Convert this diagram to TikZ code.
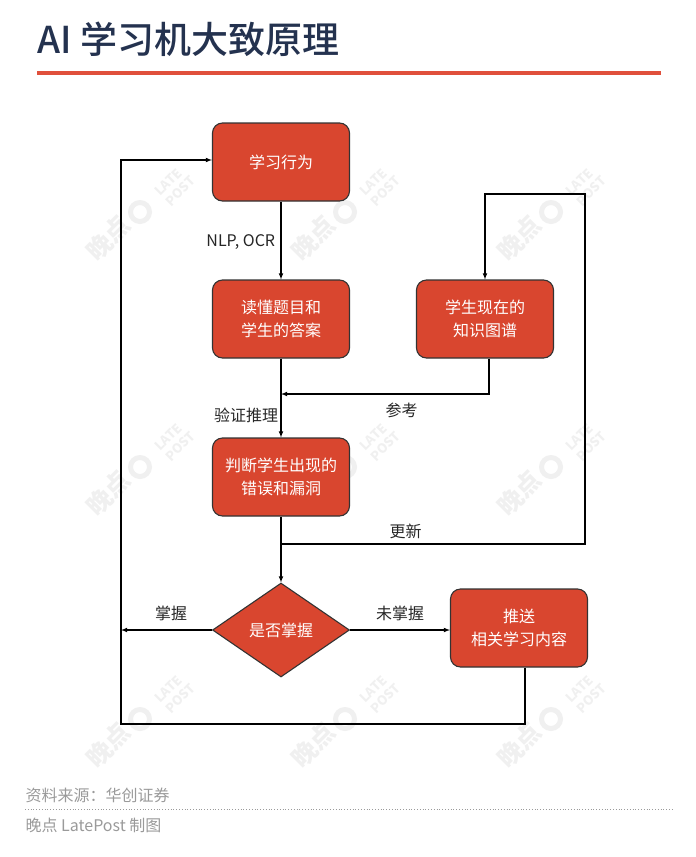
\documentclass[tikz,border=0pt]{standalone}
\usepackage{fontspec}
\setmainfont{Noto Sans CJK SC}
\newfontfamily\titlefont{Noto Sans CJK SC Medium}
\usetikzlibrary{arrows,positioning,shapes.geometric}
\definecolor{boxred}{HTML}{D9462F}
\definecolor{titleblue}{HTML}{24324F}
\definecolor{rulered}{HTML}{E0503C}
\definecolor{footgray}{HTML}{9A9A9A}
\definecolor{markgray}{HTML}{F0F0F0}
\tikzset{
  block/.style={draw=black!80,fill=boxred,rounded corners=10pt,text=white,align=center,
    minimum width=137pt,minimum height=78pt,inner sep=0pt,font=\fontsize{16}{23}\selectfont},
  decision/.style={diamond,draw=black!80,fill=boxred,text=white,align=center,
    minimum width=137pt,minimum height=94pt,inner sep=0pt,font=\fontsize{16}{23}\selectfont},
  tag/.style={text=black!85,font=\fontsize{16}{20}\selectfont},
  foot/.style={text=footgray,anchor=west,inner sep=0pt,font=\fontsize{16}{20}\selectfont},
  wmark/.style={rotate=45,text=markgray,inner sep=0pt}
}
\begin{document}
\begin{tikzpicture}[x=1pt,y=-1pt,>=latex,line width=1.1pt]
\useasboundingbox (0,0) rectangle (696,857);

% watermark
\foreach \wx in {140,345,551} {
  \foreach \wy in {215,470,722} {
    \node[wmark,font=\bfseries\fontsize{25}{26}\selectfont] (wm_a_\wx_\wy) at (\wx-32,\wy+23) {晚点};
    \node[draw=markgray,circle,line width=5pt,minimum size=19pt,inner sep=0pt] (wm_c_\wx_\wy) at (\wx,\wy-3) {};
    \node[wmark,align=left,font=\bfseries\fontsize{13}{15}\selectfont] (wm_l_\wx_\wy) at (\wx+35,\wy-29) {LATE\\POST};
  }
}

% title
\node[anchor=west,inner sep=0pt,text=titleblue,font=\titlefont\fontsize{37}{40}\selectfont] (title) at (37,39) {AI 学习机大致原理};
\coordinate (rule_l) at (37,73);
\coordinate (rule_r) at (661,73);
\draw[rulered,line width=3.5pt] (rule_l) -- (rule_r);

% flow
\node[block] (act) at (281,162) {学习行为};
\node[block] (read) [below of = act,node distance = 157pt] {读懂题目和\\学生的答案};
\node[block] (graph) [right of = read,node distance = 204pt] {学生现在的\\知识图谱};
\node[block] (err) [below of = read,node distance = 158pt] {判断学生出现的\\错误和漏洞};
\node[decision] (dec) [below of = err,node distance = 153pt] {是否掌握};
\node[block] (push) at (519,628) {推送\\相关学习内容};

\coordinate (up_r) at (585,544);
\coordinate (up_l) at (281,544);
\coordinate (top_r) at (585,194);
\coordinate (top_l) at (485,194);
\coordinate (ref_r) at (489,394);
\coordinate (ref_l) at (281,394);
\coordinate (back_r) at (525,724);
\coordinate (back_l) at (121,724);
\coordinate (back_t) at (121,160);
\coordinate (know) at (121,630);

\path[->] (act) edge node [left,tag,xshift=-2pt,yshift=-2pt] {NLP, OCR} (read)
          (read) edge node [left,tag,pos=0.72,xshift=1pt] {验证推理} (err)
          (err) edge (dec)
          (dec.west) edge node [above,tag,yshift=5pt,pos=0.45] {掌握} (know)
          (dec.east) edge node [above,tag,yshift=5pt] {未掌握} (dec.east -| push.west);

\draw[->] (graph.south -| ref_r) -- (ref_r) -- node [below,tag,pos=0.42,yshift=-5pt] {参考} (ref_l);
\draw[->] (up_l) -- node [above,tag,pos=0.41,yshift=1pt] {更新} (up_r) -- (top_r) -- (top_l) -- (graph);
\draw[->] (push.south -| back_r) -- (back_r) -- (back_l) -- (back_t) -- (act.west |- back_t);

% footer
\node[foot] (src) at (25,795) {资料来源：华创证券};
\coordinate (dot_l) at (25,809);
\coordinate (dot_r) at (672,809);
\draw[footgray,dotted,line width=0.8pt] (dot_l) -- (dot_r);
\node[foot] (made) at (25,825) {晚点 LatePost 制图};
\end{tikzpicture}
\end{document}
